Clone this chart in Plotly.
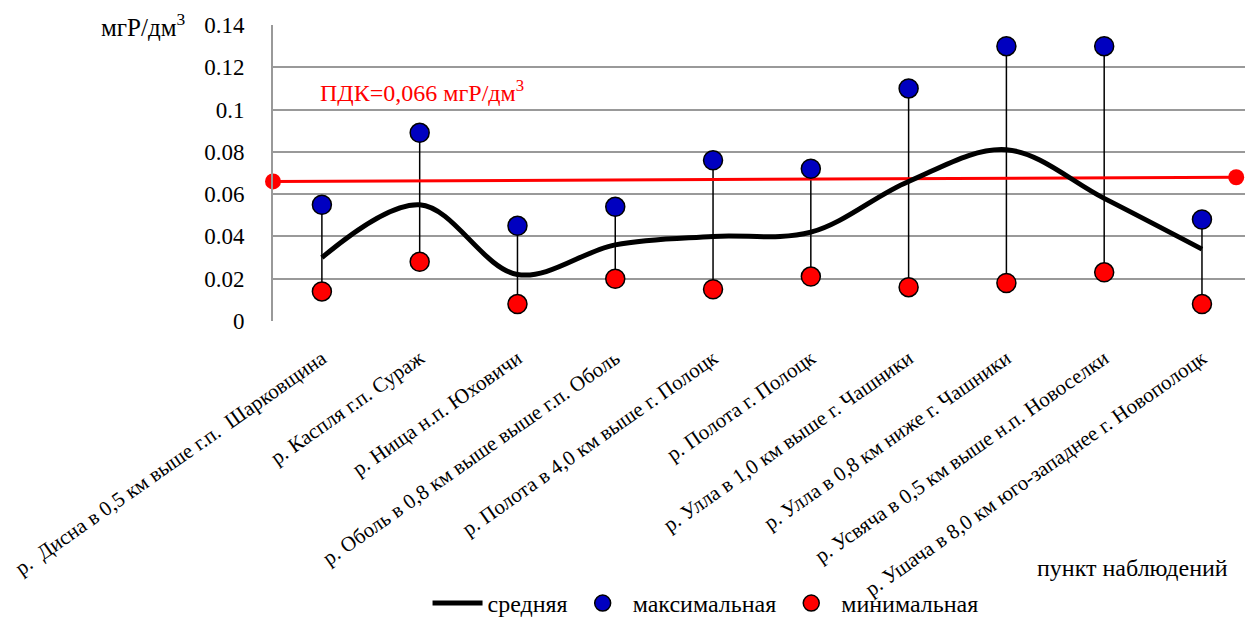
import plotly.graph_objects as go

categories = [
    "р.  Дисна в 0,5 км выше г.п.  Шарковщина",
    "р. Каспля г.п. Сураж",
    "р. Нища н.п. Юховичи",
    "р. Оболь в 0,8 км выше выше г.п. Оболь",
    "р. Полота в 4,0 км выше г. Полоцк",
    "р. Полота г. Полоцк",
    "р. Улла в 1,0 км выше г. Чашники",
    "р. Улла в 0,8 км ниже г. Чашники",
    "р. Усвяча в 0,5 км выше н.п. Новоселки",
    "р. Ушача в 8,0 км юго-западнее г. Новополоцк",
]
mean_vals = [0.030, 0.055, 0.022, 0.036, 0.040, 0.042, 0.066, 0.081, 0.058, 0.034]
max_vals = [0.055, 0.089, 0.045, 0.054, 0.076, 0.072, 0.110, 0.130, 0.130, 0.048]
min_vals = [0.014, 0.028, 0.008, 0.020, 0.015, 0.021, 0.016, 0.018, 0.023, 0.008]
pdk_x = [-0.5, 9.35]
pdk_vals = [0.066, 0.068]
y_ticks = [0, 0.02, 0.04, 0.06, 0.08, 0.1, 0.12, 0.14]
y_ticktext = ["0", "0.02", "0.04", "0.06", "0.08", "0.1", "0.12", "0.14"]

xs = list(range(len(categories)))
FONT = "Liberation Serif"
FS_BIG = 24
FS = 21

# high-low lines
hl_x, hl_y = [], []
for i in xs:
    hl_x += [i, i, None]
    hl_y += [min_vals[i], max_vals[i], None]

fig = go.Figure()
fig.add_trace(go.Scatter(x=hl_x, y=hl_y, mode="lines", line=dict(color="black", width=1.5),
                         showlegend=False, hoverinfo="skip"))
fig.add_trace(go.Scatter(x=pdk_x, y=pdk_vals, mode="lines+markers",
                         line=dict(color="#ff0000", width=3), marker=dict(color="#ff0000", size=16),
                         showlegend=False, cliponaxis=False))
fig.add_trace(go.Scatter(x=xs, y=mean_vals, mode="lines", name="средняя",
                         line=dict(color="black", width=5, shape="spline", smoothing=1.0)))
fig.add_trace(go.Scatter(x=xs, y=max_vals, mode="markers", name="максимальная",
                         marker=dict(color="#0000c0", size=19, line=dict(color="black", width=1.5))))
fig.add_trace(go.Scatter(x=xs, y=min_vals, mode="markers", name="минимальная",
                         marker=dict(color="#ff0000", size=19, line=dict(color="black", width=1.5))))

fig.update_layout(
    width=1245, height=626,
    margin=dict(l=273, r=0, t=25, b=297),
    paper_bgcolor="white", plot_bgcolor="white",
    font=dict(family=FONT, size=FS, color="black"),
    xaxis=dict(range=[-0.5, 9.44], tickmode="array", tickvals=xs, ticktext=categories,
               tickangle=-35, showgrid=False, zeroline=False, showline=False,
               ticks="outside", ticklen=16, tickcolor="rgba(0,0,0,0)",
               automargin=False, tickfont=dict(family=FONT, size=FS)),
    yaxis=dict(range=[0, 0.14], tickvals=y_ticks, ticktext=y_ticktext,
               showgrid=True, gridcolor="#999999", gridwidth=2,
               zeroline=False, showline=True, linecolor="#999999", linewidth=2,
               ticks="outside", ticklen=22, tickcolor="rgba(0,0,0,0)",
               automargin=False, tickfont=dict(family=FONT, size=23)),
    legend=dict(orientation="h", x=0.445, xanchor="center", y=-0.955, yanchor="middle",
                itemwidth=50, bgcolor="rgba(0,0,0,0)", font=dict(family=FONT, size=FS_BIG)),
    showlegend=True,
)
fig.add_annotation(text="ПДК=0,066 мгР/дм<sup>3</sup>", xref="paper", yref="y",
                   x=0.046, y=0.1087, xanchor="left", yanchor="middle", showarrow=False,
                   font=dict(family=FONT, size=FS_BIG, color="#ff0000"))
fig.add_annotation(text="мгР/дм<sup>3</sup>", xref="paper", yref="paper",
                   x=-0.0885, y=1.0, xanchor="right", yanchor="middle", showarrow=False,
                   font=dict(family=FONT, size=25))
fig.add_annotation(text="пункт наблюдений", xref="paper", yref="paper",
                   x=0.985, y=-0.836, xanchor="right", yanchor="middle", showarrow=False,
                   font=dict(family=FONT, size=FS_BIG))
fig.write_html("out.html", post_script="document.body.style.margin='0px';",
               config={"displayModeBar": False})
